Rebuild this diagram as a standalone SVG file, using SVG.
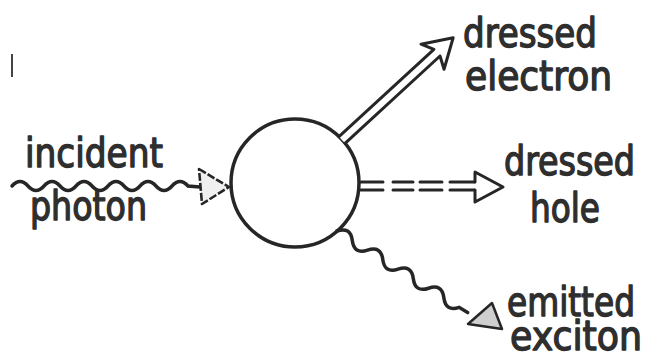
<svg xmlns="http://www.w3.org/2000/svg" width="648" height="358" viewBox="0 0 648 358">
<style>
.lbl{font-family:"DejaVu Sans Condensed","DejaVu Sans",sans-serif;font-size:40px;fill:#2e2e2e;stroke:#2e2e2e;stroke-width:1.3;stroke-linejoin:round}
.ln{fill:none;stroke:#262626;stroke-width:3;stroke-linejoin:round;stroke-linecap:round}
.wave{fill:none;stroke:#262626;stroke-width:3.5;stroke-linecap:round}
</style>
<rect width="648" height="358" fill="#ffffff"/>
<line x1="12" y1="54" x2="12" y2="77" stroke="#444" stroke-width="2"/>
<g id="vertex">
<circle cx="295" cy="183" r="64" fill="#fff" stroke="#262626" stroke-width="3.5"/>
</g>
<g id="connectors">
<g id="incident-photon-line">
<path class="wave" d="M12,186 q8,-9 16,0 t16,0 t16,0 t16,0 t16,0 t16,0 t16,0 t16,0 t16,0 t16,0 t16,0 l12,1"/>
<polygon points="199,169 229,187 202,204" fill="#f0f0f0" stroke="#262626" stroke-width="2.6" stroke-linejoin="round" stroke-dasharray="8 2"/>
</g>
<g id="electron-line" transform="translate(342,140) rotate(-42.6)">
<polyline class="ln" points="0,-4.5 129,-4.5 123,-17 151,0 123,17 129,4.5 0,4.5" style="fill:#fff"/>
</g>
<g id="hole-line">
<path class="ln" d="M361,182 H383 M393,182 H413 M420,182 H442 M450,182 H475 M361,190 H383 M393,190 H413 M420,190 H442 M450,190 H475"/>
<polyline class="ln" points="475,182 475,172 503,187 475,202 475,190" style="fill:#fff"/>
</g>
<g id="exciton-line">
<path class="wave" transform="translate(337,231) rotate(32)" d="M0,0 q9,-11 18,0 t18,0 t18,0 t18,0 t18,0 t18,0 t18,0 t18,0 l10,0"/>
<polygon points="468,324 492,303 502,329" fill="#cfcfcf" stroke="#262626" stroke-width="2.5" stroke-linejoin="round"/>
</g>
</g>
<g id="label-incident-photon">
<text class="lbl" x="25" y="167" textLength="138" lengthAdjust="spacingAndGlyphs">incident</text>
<text class="lbl" x="30" y="220" textLength="117" lengthAdjust="spacingAndGlyphs">photon</text>
</g>
<g id="label-dressed-electron">
<text class="lbl" x="463" y="47" textLength="134" lengthAdjust="spacingAndGlyphs">dressed</text>
<text class="lbl" x="465" y="90" textLength="147" lengthAdjust="spacingAndGlyphs">electron</text>
</g>
<g id="label-dressed-hole">
<text class="lbl" x="504" y="175" textLength="131" lengthAdjust="spacingAndGlyphs">dressed</text>
<text class="lbl" x="530" y="222" textLength="70" lengthAdjust="spacingAndGlyphs">hole</text>
</g>
<g id="label-emitted-exciton">
<text class="lbl" x="507" y="316" textLength="128" lengthAdjust="spacingAndGlyphs">emitted</text>
<text class="lbl" x="510" y="350" textLength="132" lengthAdjust="spacingAndGlyphs">exciton</text>
</g>
</svg>
